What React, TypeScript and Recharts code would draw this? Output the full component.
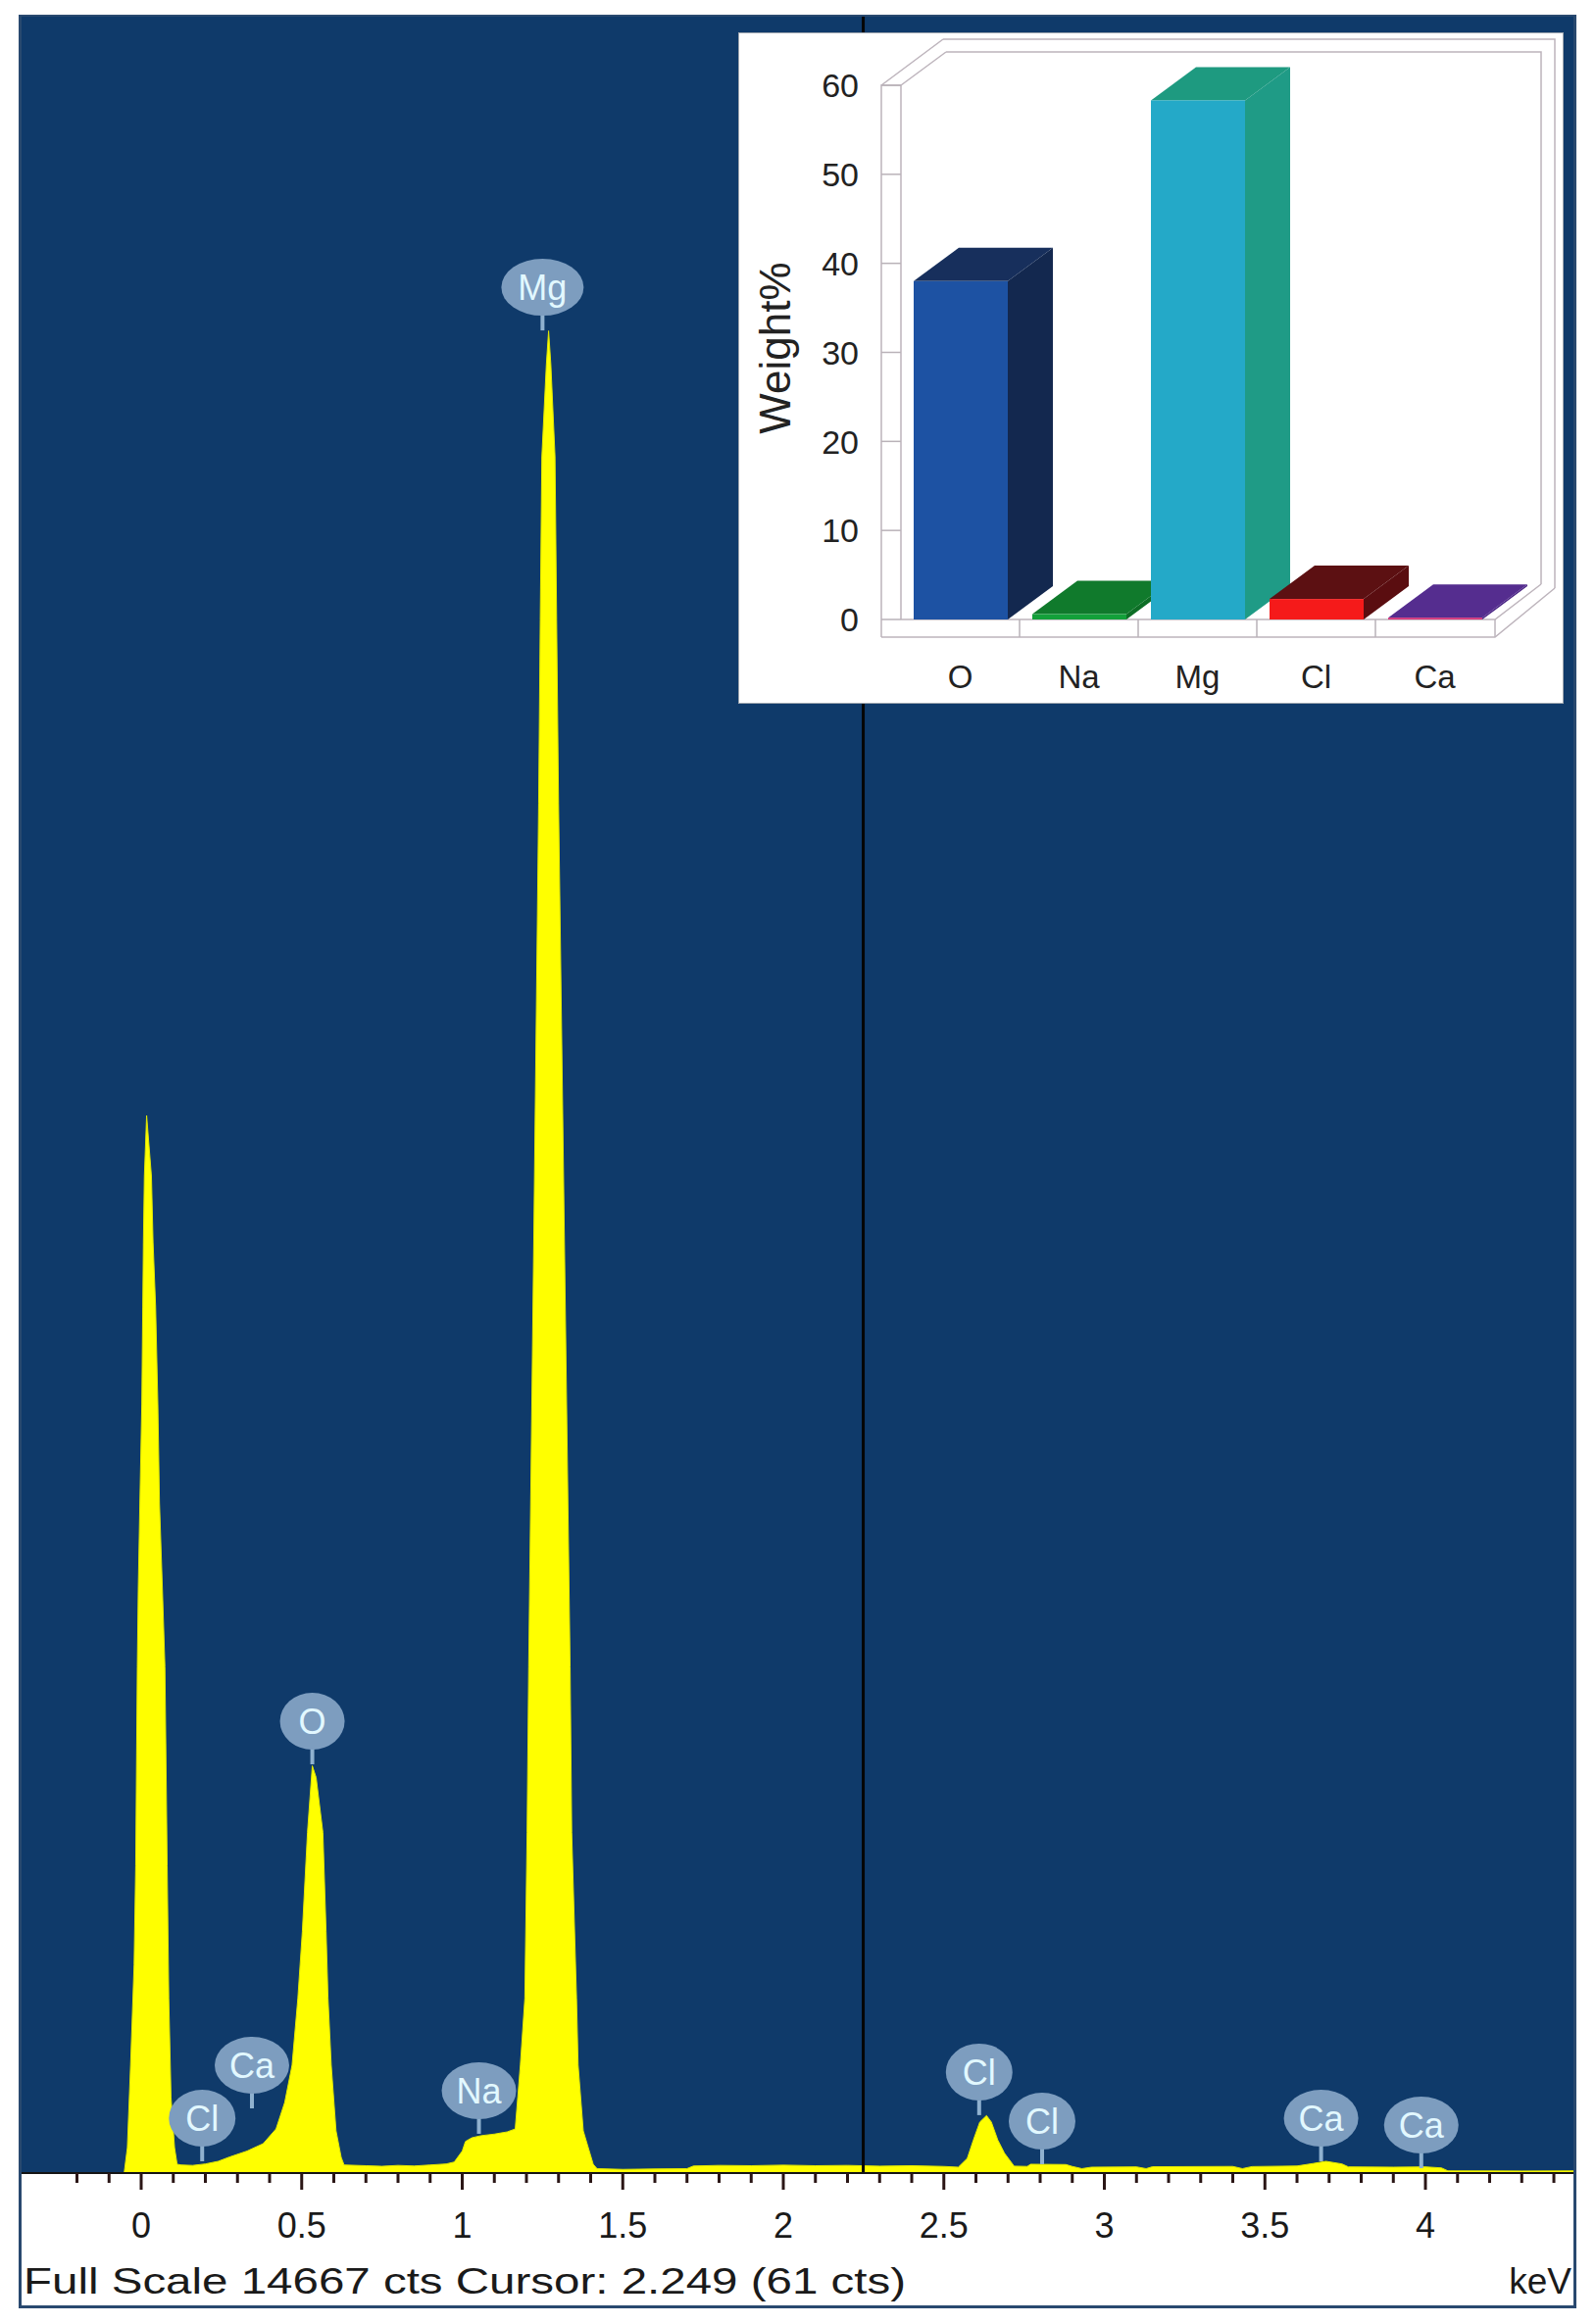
import React from 'react'
import {
  Area,
  Bar,
  BarChart,
  CartesianGrid,
  ComposedChart,
  ReferenceLine,
  Scatter,
  XAxis,
  YAxis,
} from 'recharts'

const FONT = '"Liberation Sans", Arial, sans-serif'

// EDS spectrum as [keV, counts]
const zeroPeak: [number, number][] = [
  [-0.3725, 0], [-0.053, 0], [-0.043, 173], [-0.033, 734], [-0.022, 1415],
  [-0.017, 2089], [-0.012, 3443], [-0.009, 3980], [-0.004, 4560], [0.002, 5227],
  [0.005, 5893], [0.007, 6333], [0.01, 6780], [0.017, 7193], [0.032, 6780],
  [0.037, 6333], [0.045, 5893], [0.052, 5227], [0.057, 4560], [0.066, 3980],
  [0.074, 3443], [0.081, 2089], [0.086, 1188], [0.093, 514], [0.104, 173], [0.112, 60],
]
const lowTail: [number, number][] = [
  [0.125, 55], [0.16, 52], [0.2, 62], [0.24, 80], [0.276, 110], [0.33, 150],
  [0.38, 200], [0.42, 300],
]
const oxygenPeak: [number, number][] = [
  [0.447, 480], [0.47, 734], [0.488, 1188], [0.502, 1642], [0.518, 2316],
  [0.533, 2770], [0.545, 2690], [0.566, 2316], [0.576, 1642], [0.582, 1188],
  [0.592, 734], [0.607, 287], [0.623, 107], [0.632, 55],
]
const sodiumShelf: [number, number][] = [
  [0.7, 50], [0.75, 46], [0.8, 52], [0.85, 48], [0.9, 55], [0.95, 62], [0.975, 75],
  [1.0, 150], [1.01, 215], [1.03, 240], [1.058, 254], [1.1, 265], [1.14, 280], [1.165, 300],
]
const magnesiumPeak: [number, number][] = [
  [1.173, 517], [1.181, 734], [1.195, 1188], [1.202, 2316], [1.207, 3443],
  [1.223, 6380], [1.238, 9315], [1.243, 10562], [1.248, 11674], [1.262, 12300],
  [1.269, 12530], [1.276, 12300], [1.289, 11674], [1.294, 10562], [1.3, 9315],
  [1.318, 6380], [1.336, 3443], [1.341, 2316], [1.356, 1188], [1.361, 734],
  [1.377, 287], [1.408, 60],
]
const midBackground: [number, number][] = [
  [1.42, 30], [1.5, 25], [1.6, 28], [1.7, 30], [1.72, 48], [1.8, 52], [1.9, 50],
  [2.0, 54], [2.1, 50], [2.2, 52], [2.3, 47], [2.4, 50], [2.5, 45], [2.545, 40],
]
const chlorinePeak: [number, number][] = [
  [2.573, 100], [2.592, 225], [2.612, 347], [2.633, 391], [2.648, 347],
  [2.668, 225], [2.689, 135], [2.719, 47],
]
const highBackground: [number, number][] = [
  [2.76, 45], [2.77, 60], [2.88, 58], [2.9, 45], [2.93, 30], [2.96, 40], [3.1, 42],
  [3.13, 30], [3.15, 43], [3.4, 45], [3.43, 30], [3.46, 44], [3.6, 48], [3.65, 65],
  [3.69, 80], [3.74, 62], [3.76, 42], [3.9, 40], [4.0, 42], [4.05, 35], [4.07, 15],
  [4.3, 14], [4.461, 15],
]

const spectrum = [
  ...zeroPeak, ...lowTail, ...oxygenPeak, ...sodiumShelf,
  ...magnesiumPeak, ...midBackground, ...chlorinePeak, ...highBackground,
].map(([kev, cts]) => ({ kev, cts }))

const peakLabels = [
  { el: 'Cl', kev: 0.19, cts: 80 },
  { el: 'Ca', kev: 0.345, cts: 440 },
  { el: 'O', kev: 0.533, cts: 2780 },
  { el: 'Na', kev: 1.052, cts: 267 },
  { el: 'Mg', kev: 1.25, cts: 12533 },
  { el: 'Cl', kev: 2.61, cts: 394 },
  { el: 'Cl', kev: 2.806, cts: 60 },
  { el: 'Ca', kev: 3.675, cts: 80 },
  { el: 'Ca', kev: 3.987, cts: 33 },
]

const majorTicks = [0, 0.5, 1, 1.5, 2, 2.5, 3, 3.5, 4]
const minorTicks = [
  -0.2, -0.1, 0, 0.1, 0.2, 0.3, 0.4, 0.5, 0.6, 0.7, 0.8, 0.9, 1, 1.1, 1.2, 1.3, 1.4,
  1.5, 1.6, 1.7, 1.8, 1.9, 2, 2.1, 2.2, 2.3, 2.4, 2.5, 2.6, 2.7, 2.8, 2.9, 3, 3.1,
  3.2, 3.3, 3.4, 3.5, 3.6, 3.7, 3.8, 3.9, 4, 4.1, 4.2, 4.3, 4.4,
]
const fullScale = 14667
const cursorKev = 2.249

// inset: weight% per element
const elements = ['O', 'Na', 'Mg', 'Cl', 'Ca']
const weightPct = [38.0, 0.6, 58.3, 2.3, 0.2]
const weightTicks = [0, 10, 20, 30, 40, 50, 60]
const weights = elements.map((el, i) => ({ el, wt: weightPct[i] }))

const barColors = [
  { front: '#1d52a3', side: '#13284f', top: '#172f5c' },
  { front: '#13a03a', side: '#0d6e26', top: '#107a2c' },
  { front: '#24a9c8', side: '#1f9b86', top: '#1e9a80' },
  { front: '#f51a1a', side: '#5a0d10', top: '#5c1012' },
  { front: '#d43078', side: '#4a2585', top: '#552d8f' },
]

function XTick(props: any) {
  const { x, y, payload } = props
  const v = payload.value
  const major = majorTicks.some((m) => Math.abs(m - v) < 1e-6)
  return (
    <g>
      <line x1={x} x2={x} y1={y} y2={y + (major ? 17 : 10)} stroke='#2b1616' strokeWidth={3} />
      {major && (
        <text x={x} y={y + 66} textAnchor='middle' fontSize={36} fill='#1a1a1a' fontFamily={FONT}>
          {String(v)}
        </text>
      )}
    </g>
  )
}

function PeakBubble(props: any) {
  const { cx, cy, payload } = props
  const el = payload.el
  const rx = el === 'Mg' ? 42 : el === 'O' ? 33 : el === 'Cl' ? 34 : 38
  const by = cy - 44
  return (
    <g>
      <line x1={cx} x2={cx} y1={by + 20} y2={cy} stroke='#8fb1cf' strokeWidth={4} />
      <ellipse cx={cx} cy={by} rx={rx} ry={29} fill='#7d9dbf' />
      <text x={cx} y={by} dy='0.36em' textAnchor='middle' fontSize={36} fill='#e2f8ff' fontFamily={FONT}>
        {el}
      </text>
    </g>
  )
}

function Bar3D(props: any) {
  const { x, y, width, height, index } = props
  const c = barColors[index]
  const dx = 46
  const dy = -34
  return (
    <g>
      <polygon
        points={`${x + width},${y} ${x + width + dx},${y + dy} ${x + width + dx},${y + height + dy} ${x + width},${y + height}`}
        fill={c.side}
      />
      <polygon
        points={`${x},${y} ${x + dx},${y + dy} ${x + width + dx},${y + dy} ${x + width},${y}`}
        fill={c.top}
      />
      <rect x={x} y={y} width={width} height={Math.max(height, 1)} fill={c.front} />
    </g>
  )
}

function WTick(props: any) {
  const { x, y, payload } = props
  return (
    <g>
      <line x1={x - 20} x2={x} y1={y} y2={y} stroke='#b9b2b8' strokeWidth={1.5} />
      <text x={x - 43} y={y} dy='0.36em' textAnchor='end' fontSize={34} fill='#222' fontFamily={FONT}>
        {payload.value}
      </text>
    </g>
  )
}

function CatTick(props: any) {
  const { x, y, payload, index } = props
  return (
    <g>
      {index < elements.length - 1 && (
        <line x1={x + 60.5} x2={x + 60.5} y1={y} y2={y + 18} stroke='#b9b2b8' strokeWidth={1.5} />
      )}
      <text x={x} y={y + 70} textAnchor='middle' fontSize={33} fill='#222' fontFamily={FONT}>
        {payload.value}
      </text>
    </g>
  )
}

function InsetFrame() {
  const s = { stroke: '#bdb4bc', strokeWidth: 1.5, fill: 'none' }
  return (
    <svg width={840} height={683} style={{ position: 'absolute', left: 0, top: 0 }}>
      <polyline points='145,616 145,53 165,53 165,598' {...s} />
      <line x1={145} y1={53} x2={208} y2={6} {...s} />
      <line x1={165} y1={53} x2={211} y2={19} {...s} />
      <polyline points='208,6 832,6 832,566' {...s} />
      <polyline points='211,19 818,19 818,562' {...s} />
      <polyline points='145,616 771,616 832,566' {...s} />
      <polyline points='165,598 771,598 818,562' {...s} />
      <line x1={771} y1={598} x2={771} y2={616} {...s} />
      <text
        x={36}
        y={321}
        transform='rotate(-90 36 321)'
        textAnchor='middle'
        dy='0.36em'
        fontSize={44}
        fill='#222'
        fontFamily={FONT}
      >
        Weight%
      </text>
    </svg>
  )
}

function WeightInset() {
  return (
    <div
      style={{
        position: 'absolute',
        left: 754,
        top: 34,
        width: 840,
        height: 683,
        background: '#fff',
        outline: '1px solid #9aa3ad',
      }}
    >
      <InsetFrame />
      <BarChart
        width={840}
        height={683}
        data={weights}
        margin={{ top: 53, right: 70, bottom: 0, left: 0 }}
        barSize={96}
      >
        <XAxis
          dataKey='el'
          height={85}
          axisLine={false}
          tickLine={false}
          tickSize={0}
          tickMargin={0}
          interval={0}
          tick={(p: any) => <CatTick {...p} />}
        />
        <YAxis
          domain={[0, 60]}
          ticks={weightTicks}
          width={165}
          axisLine={false}
          tickLine={false}
          tickSize={0}
          tickMargin={0}
          interval={0}
          tick={(p: any) => <WTick {...p} />}
        />
        <Bar dataKey='wt' shape={(p: any) => <Bar3D {...p} />} isAnimationActive={false} />
      </BarChart>
    </div>
  )
}

export default function App() {
  return (
    <div style={{ position: 'absolute', left: 0, top: 0, width: 1628, height: 2371, background: '#fff' }}>
      <div
        style={{
          position: 'absolute',
          left: 19,
          top: 15,
          width: 1589,
          height: 2340,
          boxSizing: 'border-box',
          border: '3px solid #29496f',
          background: '#fff',
        }}
      />
      <div style={{ position: 'absolute', left: 0, top: 0 }}>
        <ComposedChart
          width={1628}
          height={2371}
          data={spectrum}
          margin={{ top: 17, right: 23, bottom: 34, left: 22 }}
        >
          <CartesianGrid horizontal={false} vertical={false} fill='#0f3a6a' />
          <XAxis
            dataKey='kev'
            type='number'
            domain={[-0.3725, 4.461]}
            allowDataOverflow
            ticks={minorTicks}
            interval={0}
            tickSize={0}
            tickMargin={0}
            height={120}
            axisLine={{ stroke: '#141414', strokeWidth: 2 }}
            tick={(p: any) => <XTick {...p} />}
          />
          <YAxis dataKey='cts' type='number' domain={[0, fullScale]} allowDataOverflow hide />
          <Area
            type='linear'
            dataKey='cts'
            stroke='#e0e600'
            strokeWidth={1}
            fill='#ffff00'
            fillOpacity={1}
            dot={false}
            activeDot={false}
            isAnimationActive={false}
          />
          <ReferenceLine x={cursorKev} stroke='#050505' strokeWidth={3} />
          <Scatter
            data={peakLabels}
            dataKey='cts'
            shape={(p: any) => <PeakBubble {...p} />}
            isAnimationActive={false}
          />
        </ComposedChart>
      </div>
      <svg width={1628} height={2371} style={{ position: 'absolute', left: 0, top: 0, pointerEvents: 'none' }}>
        <text
          x={24}
          y={2340}
          fontSize={37}
          fill='#1a1a1a'
          fontFamily={FONT}
          textLength={900}
          lengthAdjust='spacingAndGlyphs'
        >
          Full Scale 14667 cts Cursor: 2.249  (61 cts)
        </text>
        <text x={1603} y={2340} fontSize={37} fill='#1a1a1a' fontFamily={FONT} textAnchor='end'>
          keV
        </text>
      </svg>
      <WeightInset />
    </div>
  )
}
